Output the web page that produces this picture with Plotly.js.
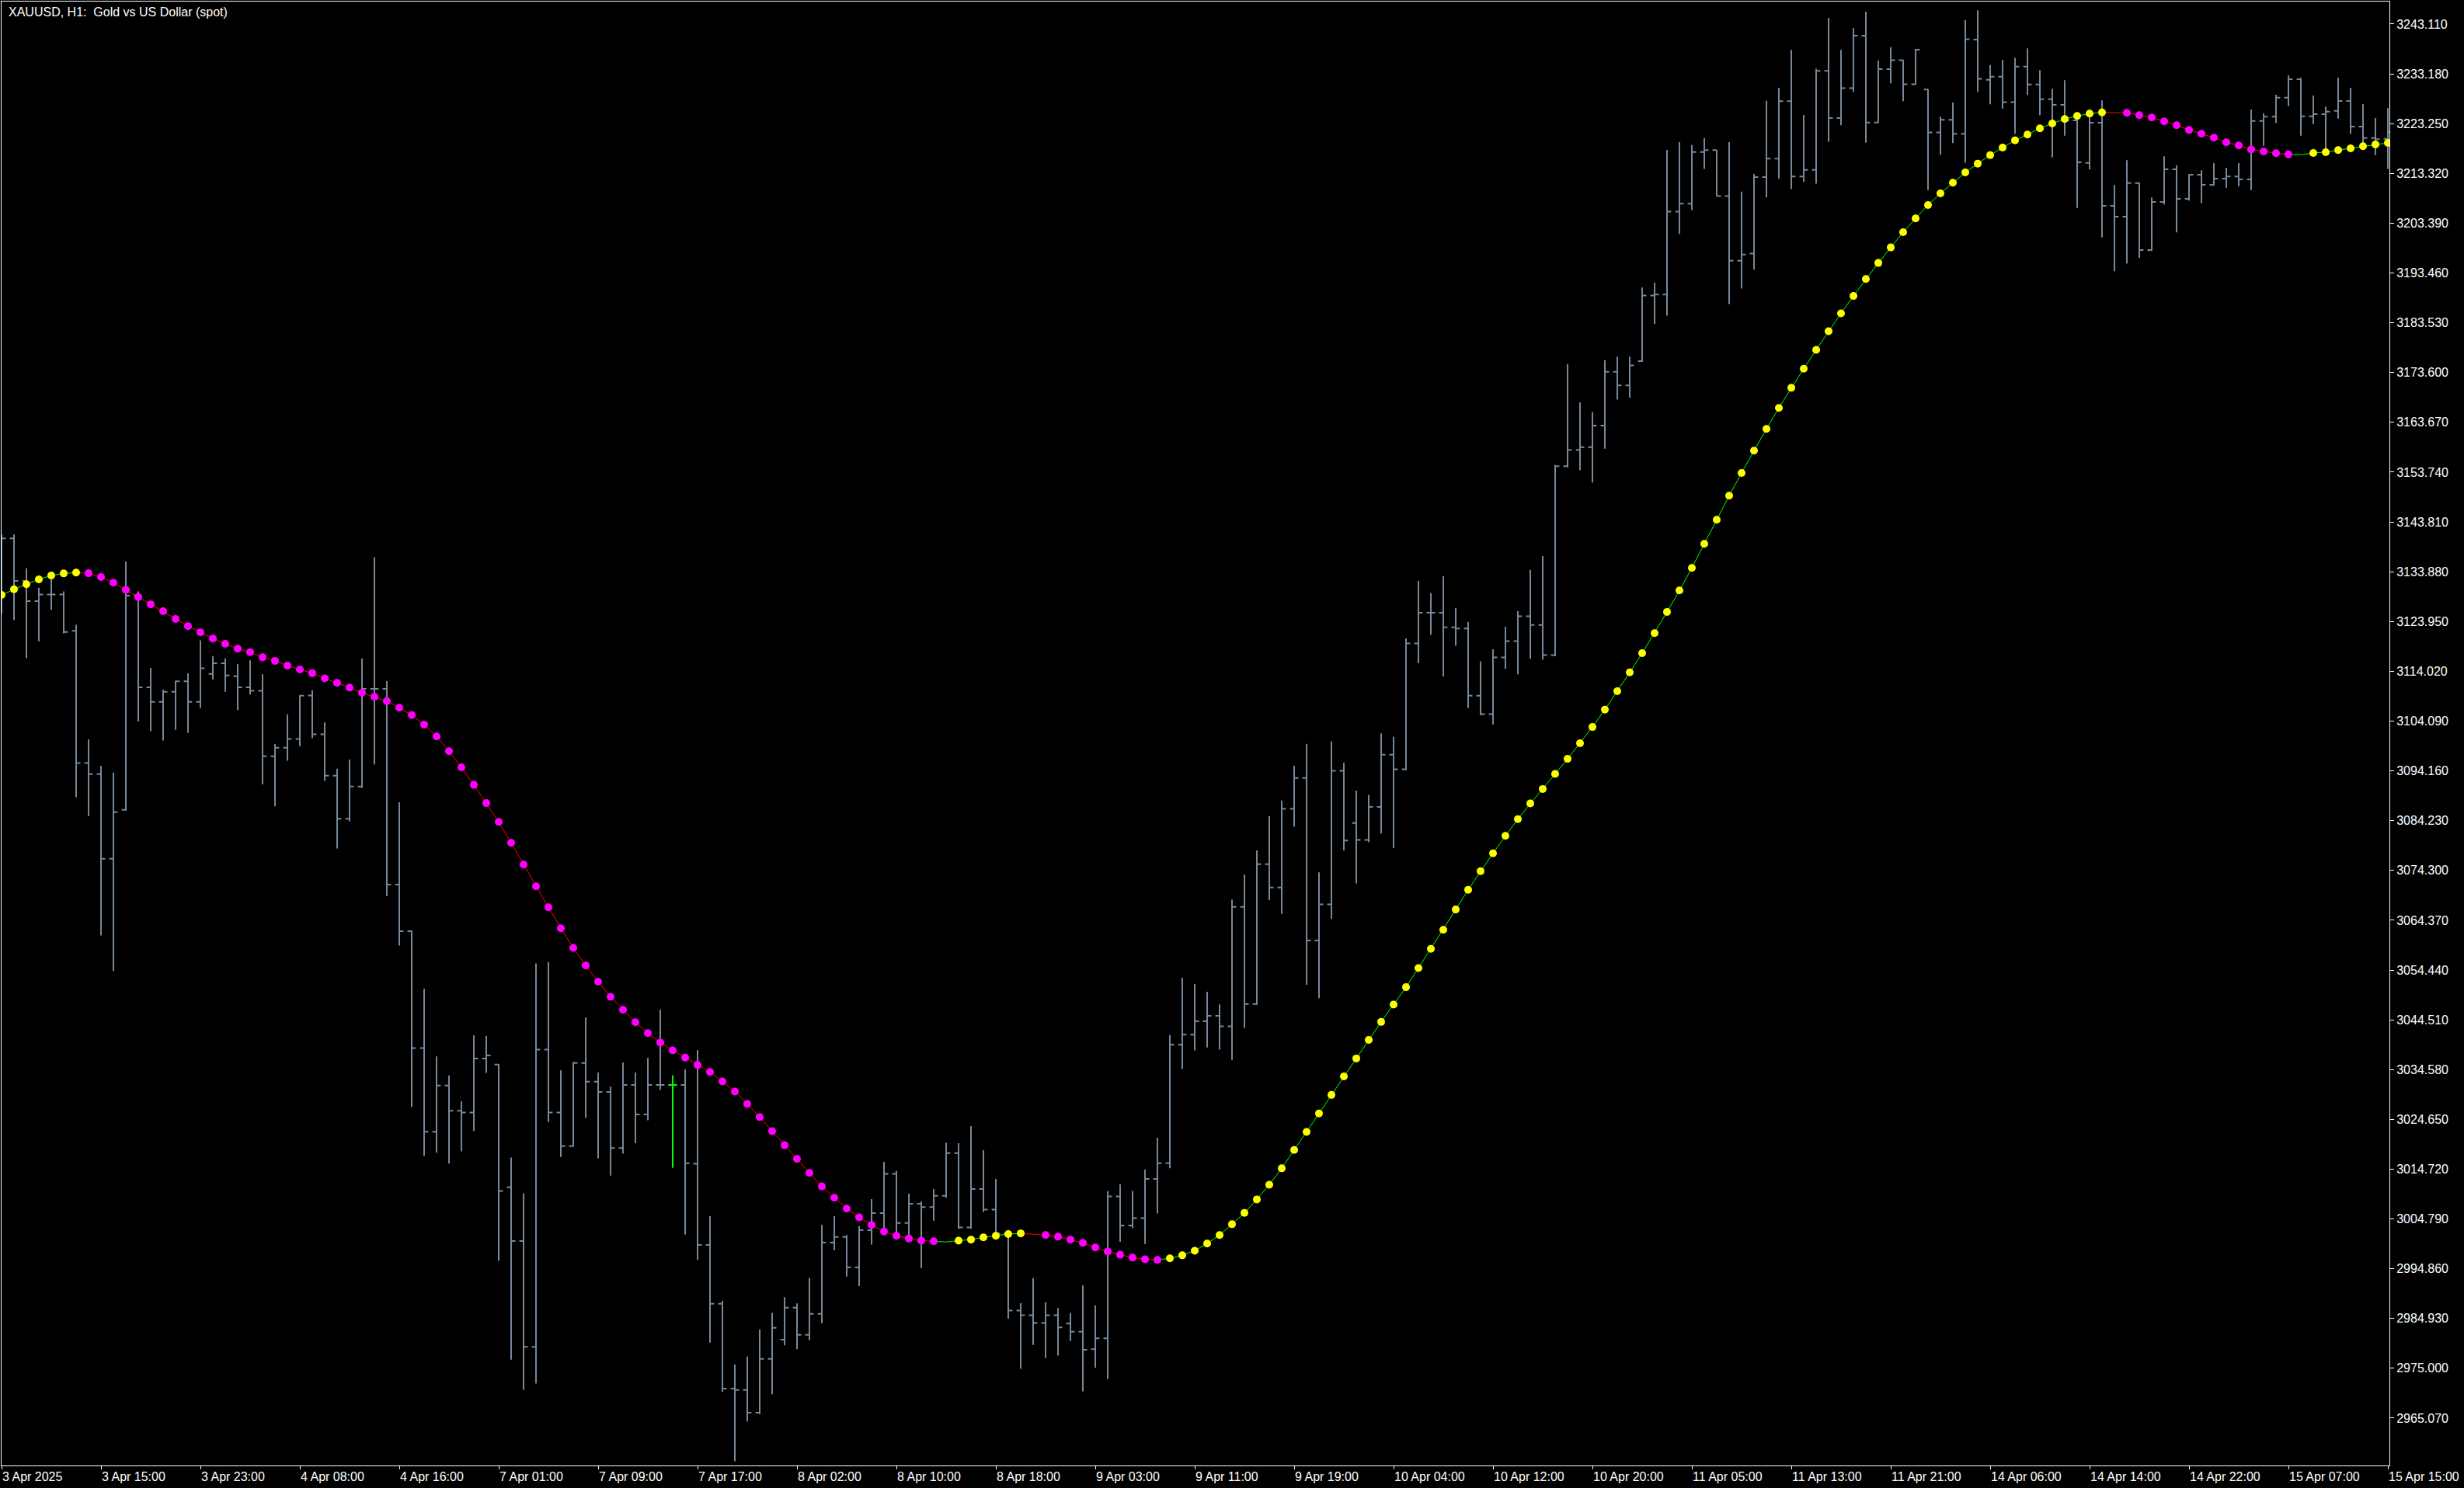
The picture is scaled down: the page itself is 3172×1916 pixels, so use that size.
<!DOCTYPE html>
<html>
<head>
<meta charset="utf-8">
<script src="https://cdn.plot.ly/plotly-3.0.1.min.js"></script>
<style>
  html, body { margin: 0; padding: 0; background: #000000; }
  #chart { width: 3172px; height: 1916px; }
</style>
</head>
<body>
<div id="chart"></div>
<script>
// ---------------- DATA ----------------
const chartTitle = "XAUUSD, H1:  Gold vs US Dollar (spot)";

const openP = [
3130.19,3140.52,3132.05,3128.02,3129.32,3129.32,3122.09,3095.71,3093.53,3076.63,
3086.40,3129.09,3110.83,3107.92,3109.95,3112.02,3107.92,3113.49,3115.63,3113.03,
3110.83,3110.12,3097.08,3098.80,3100.52,3109.20,3101.46,3093.20,3084.61,3091.03,
3110.50,3110.50,3071.47,3062.18,3038.88,3022.18,3031.40,3026.35,3026.01,3036.79,
3035.60,3011.10,3000.40,2979.28,3038.56,3026.02,3019.32,3035.88,3032.16,3030.14,
3018.93,3031.51,3025.63,3031.51,3031.51,3031.51,3015.80,2999.62,2987.88,2970.95,
2970.68,2966.17,2976.88,2980.72,2987.10,2981.70,2985.87,3000.08,3001.20,2995.12,
3002.56,3005.95,3013.77,3004.00,3007.83,3007.18,3009.41,3017.94,3003.09,3010.77,
3006.66,3001.91,2986.52,2985.61,2984.05,2985.61,2983.91,2982.29,2978.83,2980.99,
3009.28,3003.47,3004.97,3012.79,3015.92,3039.53,3041.54,3044.22,3045.32,3043.22,
3067.04,3047.68,3075.56,3070.91,3086.59,3092.75,3060.33,3067.55,3094.18,3083.74,
3080.38,3086.97,3097.37,3094.49,3119.57,3125.69,3125.69,3122.80,3122.57,3109.16,
3105.47,3116.79,3120.03,3125.00,3123.27,3117.26,3154.93,3158.17,3158.74,3163.03,
3173.76,3171.05,3175.90,3188.96,3189.15,3205.69,3207.28,3217.60,3217.96,3208.78,
3195.90,3197.32,3212.61,3216.27,3227.73,3212.70,3214.04,3233.77,3224.35,3230.32,
3240.80,3223.47,3234.13,3235.91,3231.11,3230.04,3221.50,3224.00,3221.24,3240.00,
3232.00,3232.62,3227.56,3234.64,3231.08,3228.13,3227.00,3223.90,3215.43,3223.44,
3206.86,3204.70,3211.40,3198.04,3207.64,3214.15,3208.26,3213.06,3211.05,3212.29,
3212.70,3212.13,3223.80,3224.63,3228.44,3232.11,3224.73,3225.14,3225.81,3227.78,
3222.66,3220.39,3220.23
];

const highP = [
3141.34,3141.36,3134.55,3130.69,3132.53,3129.97,3123.28,3100.45,3095.19,3093.82,
3135.91,3129.97,3114.69,3110.35,3112.10,3113.62,3120.20,3117.05,3116.58,3115.44,
3116.22,3113.43,3099.51,3105.44,3109.23,3110.24,3103.81,3094.60,3096.42,3116.59,
3136.76,3112.07,3087.90,3062.30,3050.70,3037.22,3033.40,3028.27,3041.39,3041.31,
3035.70,3017.04,3009.93,3055.76,3056.03,3034.43,3036.14,3044.99,3033.99,3031.18,
3036.00,3033.99,3036.92,3046.56,3033.40,3034.63,3038.48,3005.35,2988.47,2975.76,
2977.33,2982.75,2986.06,2989.19,2987.96,2993.04,3003.60,3005.35,3001.58,3003.41,
3008.75,3016.19,3014.36,3009.85,3008.30,3010.77,3020.03,3019.91,3023.30,3018.52,
3012.79,3002.00,2988.01,2992.97,2988.15,2987.04,2986.00,2991.54,2987.57,3010.32,
3011.68,3010.38,3014.62,3021.00,3041.48,3052.90,3051.66,3050.10,3047.60,3068.50,
3073.50,3078.30,3085.11,3088.26,3095.19,3099.57,3073.92,3100.03,3095.76,3090.21,
3089.39,3101.65,3100.97,3120.60,3132.05,3129.62,3132.98,3126.61,3123.84,3115.99,
3118.40,3122.91,3126.04,3134.25,3137.02,3155.16,3175.27,3167.65,3165.68,3176.09,
3176.78,3176.78,3190.57,3191.55,3218.03,3219.55,3219.00,3220.36,3218.03,3219.55,
3209.68,3213.23,3227.82,3230.40,3237.95,3224.97,3234.22,3244.35,3237.95,3242.30,
3245.60,3235.82,3238.49,3236.00,3238.14,3230.10,3224.62,3227.47,3243.92,3245.87,
3234.93,3236.00,3236.36,3238.26,3233.93,3230.20,3231.91,3224.68,3225.96,3227.88,
3211.00,3215.96,3211.50,3208.52,3216.73,3214.97,3213.17,3213.94,3215.39,3214.46,
3215.39,3226.07,3225.30,3229.01,3232.89,3232.38,3228.86,3226.65,3232.42,3230.42,
3227.16,3224.37,3226.35
];

const lowP = [
3125.54,3124.23,3116.64,3120.02,3126.24,3121.61,3088.90,3085.16,3061.34,3054.23,
3086.20,3104.01,3102.06,3100.22,3102.36,3101.77,3106.68,3112.42,3109.95,3106.26,
3109.40,3091.45,3087.07,3096.19,3099.09,3100.68,3092.16,3078.69,3084.08,3090.77,
3095.46,3069.21,3059.31,3027.14,3017.40,3018.02,3015.83,3018.28,3022.35,3033.92,
2996.42,2976.73,2970.74,2971.98,3024.13,3017.16,3019.20,3024.92,3016.90,3013.44,
3017.82,3019.91,3024.46,3030.53,3015.01,3001.71,2996.62,2980.12,2970.28,2956.46,
2964.42,2965.85,2969.83,2979.60,2978.83,2980.60,2983.97,2998.52,2993.29,2991.41,
2999.69,3002.30,3001.63,3000.67,2994.99,3004.44,3009.02,3002.82,3002.82,3006.21,
3001.47,2984.88,2974.91,2979.68,2977.06,2977.53,2980.45,2970.42,2975.11,2972.90,
3000.22,3002.94,2999.82,3005.89,3014.89,3034.70,3038.41,3039.00,3038.56,3036.52,
3042.89,3047.50,3068.39,3065.65,3083.01,3051.49,3048.83,3064.67,3078.30,3071.72,
3079.93,3081.66,3078.77,3094.30,3115.63,3121.30,3112.98,3119.10,3106.74,3105.24,
3103.38,3114.49,3113.43,3116.56,3116.33,3117.02,3154.70,3154.12,3151.69,3158.40,
3168.23,3168.60,3175.71,3183.27,3184.96,3201.24,3206.04,3214.22,3208.71,3187.27,
3190.38,3194.12,3208.52,3212.25,3210.21,3211.64,3211.28,3219.64,3222.93,3229.60,
3219.45,3223.40,3231.29,3227.73,3231.00,3210.04,3217.06,3219.38,3215.46,3229.60,
3227.11,3226.23,3221.24,3228.97,3224.94,3216.52,3220.85,3206.45,3214.10,3200.56,
3193.81,3195.36,3196.44,3197.83,3207.13,3201.55,3207.90,3207.38,3210.85,3210.48,
3210.77,3210.01,3218.84,3223.39,3226.74,3220.85,3223.18,3217.44,3224.26,3221.22,
3218.75,3216.98,3214.22
];

const closeP = [
3140.52,3132.05,3128.02,3129.32,3129.32,3121.86,3095.71,3093.53,3076.63,3085.94,
3129.09,3110.83,3107.92,3109.95,3112.02,3107.92,3114.62,3115.63,3113.20,3110.83,
3110.12,3097.08,3098.80,3100.52,3109.17,3101.46,3093.20,3084.61,3091.03,3110.50,
3110.50,3071.47,3062.18,3038.88,3022.18,3031.40,3026.35,3026.01,3036.79,3037.39,
3010.38,3000.40,2979.28,3038.56,3026.02,3019.32,3035.88,3032.16,3030.14,3018.93,
3031.51,3025.63,3031.51,3031.51,3031.51,3015.92,2999.62,2987.88,2970.95,2970.68,
2966.17,2976.88,2983.06,2987.10,2981.70,2985.87,3000.08,3001.20,2995.12,3002.56,
3005.95,3013.77,3004.00,3007.83,3007.18,3009.41,3017.94,3003.09,3010.77,3006.66,
3001.91,2986.52,2985.61,2984.05,2985.61,2983.14,2982.29,2978.69,2980.99,3009.28,
3003.47,3004.97,3012.79,3015.92,3039.53,3041.54,3044.22,3045.32,3043.22,3067.04,
3047.68,3075.56,3070.91,3086.59,3092.75,3060.33,3067.55,3094.18,3080.27,3080.38,
3086.97,3097.37,3094.49,3119.57,3125.69,3125.69,3122.80,3122.57,3109.16,3105.47,
3116.79,3120.03,3125.00,3123.27,3117.26,3154.93,3158.17,3158.74,3163.03,3173.76,
3171.05,3175.02,3188.96,3189.15,3205.69,3207.28,3217.60,3217.96,3208.78,3195.90,
3197.15,3212.61,3216.27,3227.73,3212.70,3214.04,3233.77,3224.35,3230.32,3240.80,
3223.47,3234.13,3235.91,3231.11,3238.00,3221.50,3224.00,3221.24,3240.09,3232.17,
3232.62,3227.56,3234.64,3231.08,3228.13,3227.00,3223.90,3215.54,3223.44,3206.86,
3204.70,3211.40,3198.04,3207.64,3214.15,3208.26,3213.06,3211.05,3212.29,3212.70,
3212.13,3223.80,3224.63,3228.44,3232.11,3224.73,3225.14,3225.65,3227.78,3222.66,
3220.39,3220.14,3221.58
];

// smoothed moving average drawn as dots
const maVals = [
3129.26,3130.39,3131.40,3132.35,3133.12,3133.54,3133.71,3133.58,3132.82,3131.69,
3130.27,3128.84,3127.38,3126.01,3124.46,3123.04,3121.80,3120.56,3119.49,3118.53,
3117.83,3116.81,3116.11,3115.15,3114.39,3113.64,3112.60,3111.73,3110.77,3109.73,
3108.94,3108.07,3106.77,3105.28,3103.38,3101.02,3098.08,3094.86,3091.37,3087.73,
3083.98,3079.82,3075.47,3071.13,3066.95,3062.78,3058.86,3055.35,3052.11,3049.11,
3046.51,3044.03,3041.87,3039.98,3038.42,3036.99,3035.49,3034.11,3032.22,3030.21,
3027.73,3025.11,3022.31,3019.50,3016.78,3013.97,3011.29,3009.02,3006.86,3005.10,
3003.60,3002.29,3001.44,3000.87,3000.47,3000.34,3000.20,3000.47,3000.67,3001.12,
3001.44,3001.79,3001.91,3001.79,3001.58,3001.26,3000.67,3000.02,2999.10,2998.31,
2997.66,2997.08,2996.75,2996.63,2996.95,2997.54,2998.46,2999.88,3001.58,3003.74,
3006.01,3008.69,3011.62,3014.89,3018.54,3022.14,3025.82,3029.53,3033.23,3036.80,
3040.51,3044.09,3047.55,3051.02,3054.83,3058.66,3062.47,3066.51,3070.45,3074.15,
3077.73,3081.20,3084.54,3087.66,3090.55,3093.56,3096.56,3099.68,3102.91,3106.38,
3110.05,3113.80,3117.63,3121.64,3125.87,3130.14,3134.64,3139.44,3144.24,3149.04,
3153.58,3158.03,3162.38,3166.56,3170.56,3174.38,3178.12,3181.85,3185.41,3188.88,
3192.26,3195.46,3198.56,3201.60,3204.34,3207.02,3209.33,3211.47,3213.51,3215.28,
3216.98,3218.48,3219.91,3221.07,3222.31,3223.29,3224.17,3224.79,3225.25,3225.50,
3225.45,3225.41,3224.94,3224.48,3223.70,3222.92,3221.99,3221.22,3220.45,3219.52,
3218.90,3218.11,3217.71,3217.35,3217.13,3217.04,3217.40,3217.55,3217.97,3218.33,
3218.75,3219.10,3219.41
];

// u = rising (yellow dot), d = falling (magenta dot), n = no dot drawn
const maState =
  "uuuuuuu" +
  "dddddddddd" + "dddddddddd" + "dddddddddd" + "dddddddddd" + "dddddddddd" + "dddddddddd" + "ddddddddd" +
  "n" +
  "uuuuuu" +
  "n" +
  "dddddddddd" +
  "uuuuuuuuuu" + "uuuuuuuuuu" + "uuuuuuuuuu" + "uuuuuuuuuu" + "uuuuuuuuuu" + "uuuuuuuuuu" + "uuuuuuuuuu" + "uuuuuu" +
  "n" +
  "dddddddddd" + "dddd" +
  "n" +
  "uuuuuuu";

const highlightBar = 54;   // bar drawn in green

const xTickBars = [0,8,16,24,32,40,48,56,64,72,80,88,96,104,112,120,128,136,144,152,160,168,176,184,192];
const xTickLabels = [
  "3 Apr 2025","3 Apr 15:00","3 Apr 23:00","4 Apr 08:00","4 Apr 16:00","7 Apr 01:00",
  "7 Apr 09:00","7 Apr 17:00","8 Apr 02:00","8 Apr 10:00","8 Apr 18:00","9 Apr 03:00",
  "9 Apr 11:00","9 Apr 19:00","10 Apr 04:00","10 Apr 12:00","10 Apr 20:00","11 Apr 05:00",
  "11 Apr 13:00","11 Apr 21:00","14 Apr 06:00","14 Apr 14:00","14 Apr 22:00","15 Apr 07:00",
  "15 Apr 15:00"
];
const yTickLabels = [
  "3243.110","3233.180","3223.250","3213.320","3203.390","3193.460","3183.530","3173.600",
  "3163.670","3153.740","3143.810","3133.880","3123.950","3114.020","3104.090","3094.160",
  "3084.230","3074.300","3064.370","3054.440","3044.510","3034.580","3024.650","3014.720",
  "3004.790","2994.860","2984.930","2975.000","2965.070"
];

// ---------------- BUILD ----------------
const n = closeP.length;
const barIdx = closeP.map((_, i) => i);

const BAR_COLOR = "#778899";
const FONT = "Liberation Sans, Arial, sans-serif";

// segment colour into bar i = state of next bar that has a dot
function segState(i) {
  for (let j = i; j < n; j++) if (maState[j] !== "n") return maState[j];
  return maState[i - 1];
}
const upLine = new Array(n).fill(null);
const dnLine = new Array(n).fill(null);
for (let i = 1; i < n; i++) {
  const s = segState(i);
  const arr = s === "u" ? upLine : dnLine;
  arr[i - 1] = maVals[i - 1];
  arr[i] = maVals[i];
}
const upX = [], upY = [], dnX = [], dnY = [];
for (let i = 0; i < n; i++) {
  if (maState[i] === "u") { upX.push(i); upY.push(maVals[i]); }
  else if (maState[i] === "d") { dnX.push(i); dnY.push(maVals[i]); }
}

const traces = [
  {
    type: "ohlc", x: barIdx, open: openP, high: highP, low: lowP, close: closeP,
    increasing: { line: { color: BAR_COLOR, width: 2 } },
    decreasing: { line: { color: BAR_COLOR, width: 2 } },
    tickwidth: 0.34, hoverinfo: "skip", showlegend: false
  },
  {
    type: "ohlc", x: [highlightBar],
    open: [openP[highlightBar]], high: [highP[highlightBar]],
    low: [lowP[highlightBar]], close: [closeP[highlightBar]],
    increasing: { line: { color: "#00ff00", width: 2 } },
    decreasing: { line: { color: "#00ff00", width: 2 } },
    tickwidth: 0.34, hoverinfo: "skip", showlegend: false
  },
  { type: "scatter", mode: "lines", x: barIdx, y: upLine, connectgaps: false,
    line: { color: "#00ff00", width: 1 }, hoverinfo: "skip", showlegend: false },
  { type: "scatter", mode: "lines", x: barIdx, y: dnLine, connectgaps: false,
    line: { color: "#ff0000", width: 1 }, hoverinfo: "skip", showlegend: false },
  { type: "scatter", mode: "markers", x: upX, y: upY,
    marker: { color: "#ffff00", size: 10, line: { width: 0 } }, hoverinfo: "skip", showlegend: false },
  { type: "scatter", mode: "markers", x: dnX, y: dnY,
    marker: { color: "#ff00ff", size: 10, line: { width: 0 } }, hoverinfo: "skip", showlegend: false }
];

const layout = {
  width: 3172, height: 1916,
  paper_bgcolor: "#000000", plot_bgcolor: "#000000",
  margin: { l: 2, r: 96, t: 2, b: 29, pad: 0 },
  font: { family: FONT, size: 16, color: "#ffffff" },
  showlegend: false,
  xaxis: {
    type: "linear", range: [0, 192.125],
    rangeslider: { visible: false },
    showgrid: false, zeroline: false,
    showline: true, linecolor: "#ffffff", linewidth: 1, mirror: true,
    ticks: "outside", ticklen: 4, tickwidth: 1, tickcolor: "#ffffff",
    tickvals: xTickBars, ticktext: xTickLabels,
    ticklabelposition: "outside right",
    tickfont: { family: FONT, size: 16, color: "#ffffff" },
    fixedrange: true
  },
  yaxis: {
    side: "right", range: [2955.62, 3247.60],
    showgrid: false, zeroline: false,
    showline: true, linecolor: "#ffffff", linewidth: 1, mirror: true,
    ticks: "outside", ticklen: 5, tickwidth: 1, tickcolor: "#ffffff",
    tickvals: yTickLabels.map(Number), ticktext: yTickLabels,
    tickfont: { family: FONT, size: 16, color: "#ffffff" },
    fixedrange: true
  },
  annotations: [{
    text: chartTitle.replace("  ", " \u00a0"),
    xref: "paper", yref: "paper", x: 0.0023, y: 1,
    xanchor: "left", yanchor: "top", yshift: -3, showarrow: false,
    font: { family: FONT, size: 16, color: "#ffffff" }
  }]
};

Plotly.newPlot("chart", traces, layout, { displayModeBar: false, staticPlot: true });
</script>
</body>
</html>
